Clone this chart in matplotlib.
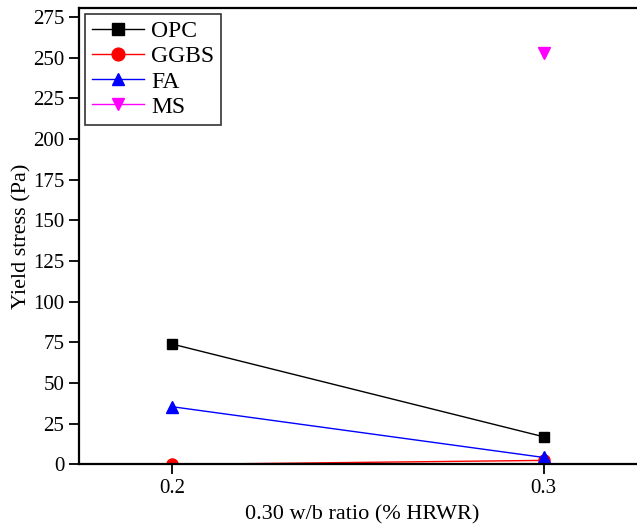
import matplotlib
matplotlib.use("Agg")
import matplotlib.pyplot as plt

plt.rcParams['font.family'] = ['Liberation Serif', 'DejaVu Serif']

wb_ratio = [0.2, 0.3]
opc = [74, 17]
ggbs = [0, 2.5]
fa = [35.5, 4.3]
ms_x = [0.3]
ms = [253]

fig = plt.figure(figsize=(6.37, 5.26), dpi=100)
ax = fig.add_axes([0.124, 0.117, 0.89, 0.868])

ax.plot(wb_ratio, opc, color='black', marker='s', markersize=7, lw=1, label='OPC')
ax.plot(wb_ratio, ggbs, color='red', marker='o', markersize=8, lw=1, label='GGBS')
ax.plot(wb_ratio, fa, color='blue', marker='^', markersize=8, lw=1, label='FA')
ax.plot(ms_x, ms, color='magenta', marker='v', markersize=8, lw=1, label='MS')

ax.set_xlim(0.175, 0.3275)
ax.set_ylim(0, 280.5)
ax.set_xticks(wb_ratio)
ax.set_xticklabels(['0.2', '0.3'])
ax.set_yticks(range(0, 276, 25))
ax.tick_params(direction='out', length=7, width=1.3, labelsize=15)
for s in ax.spines.values():
    s.set_linewidth(1.6)

ax.set_xlabel('0.30 w/b ratio (% HRWR)', fontsize=16, labelpad=5)
ax.set_ylabel('Yield stress (Pa)', fontsize=16, labelpad=1)

leg = ax.legend(loc='upper left', fontsize=17, fancybox=False, edgecolor='#333333',
                handlelength=2.2, borderpad=0.3, labelspacing=0.15, handletextpad=0.3,
                borderaxespad=0.25, framealpha=1, markerscale=1.15)
leg.get_frame().set_linewidth(1.2)

fig.savefig('out.png', dpi=100)
